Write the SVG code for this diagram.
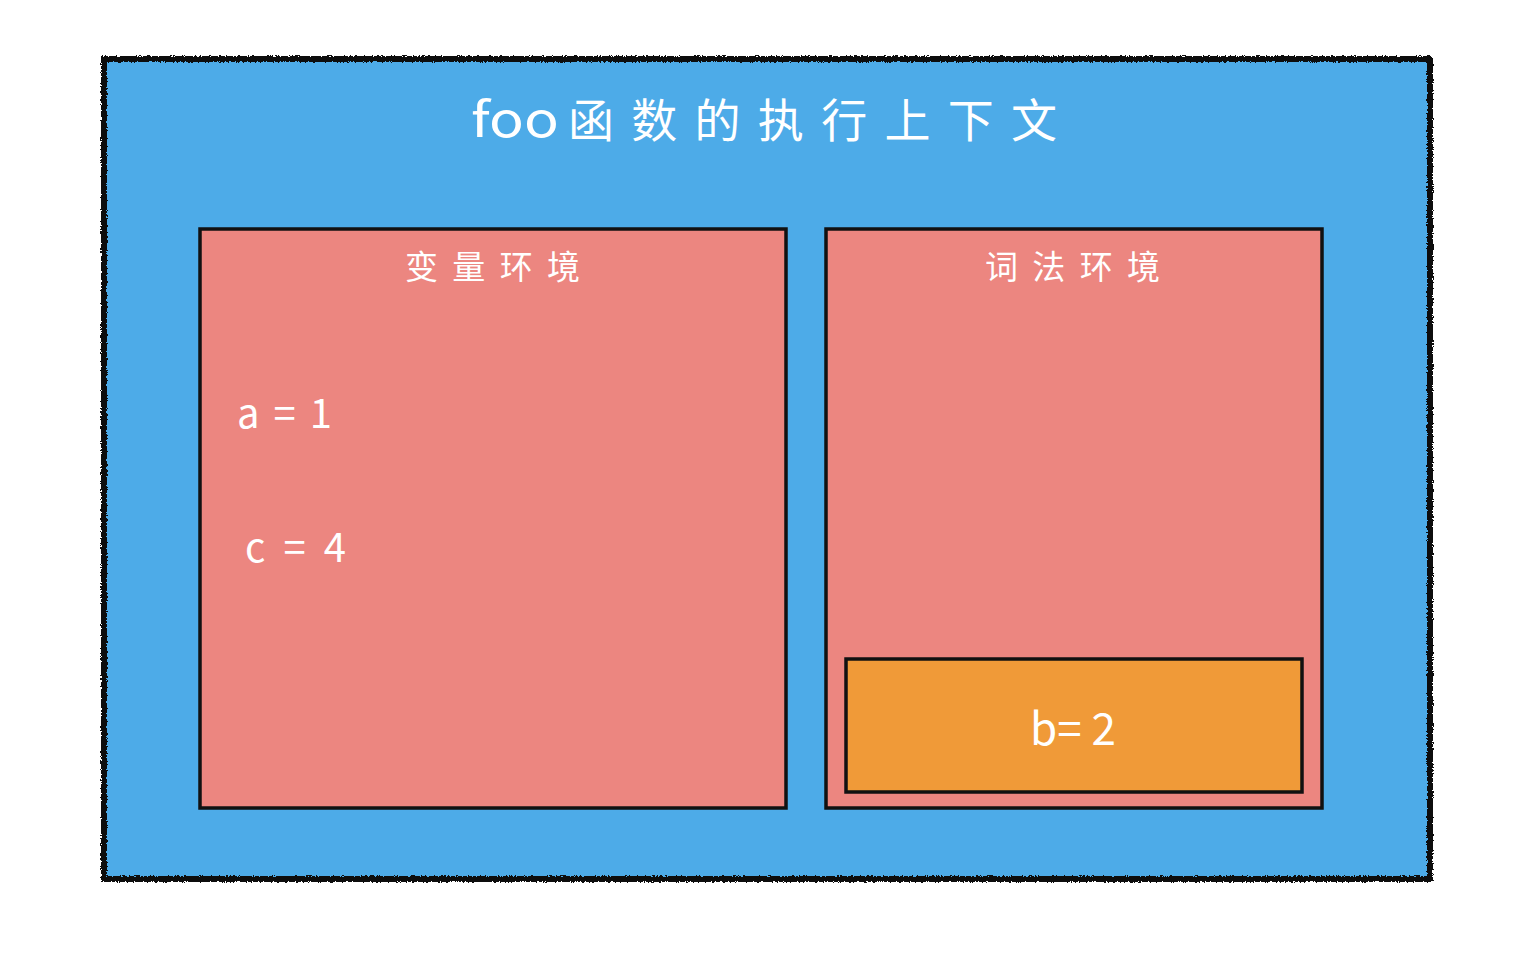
<svg xmlns="http://www.w3.org/2000/svg" width="1536" height="956" viewBox="0 0 1536 956">
<defs>
<filter id="rough" x="-2%" y="-2%" width="104%" height="104%">
<feTurbulence type="fractalNoise" baseFrequency="0.6" numOctaves="2" seed="3" result="n"/>
<feDisplacementMap in="SourceGraphic" in2="n" scale="4" xChannelSelector="R" yChannelSelector="G"/>
</filter>
<style>
.lbl{fill:#ffffff;font-family:"Noto Sans CJK SC","Noto Sans",sans-serif;}
.box{stroke:#111111;stroke-width:3.5;}
</style>
</defs>
<rect width="1536" height="956" fill="#ffffff"/>
<g id="outer">
<rect x="104" y="59" width="1326" height="820" fill="#4DABE8"/>
<rect x="104" y="59" width="1326" height="820" fill="none" stroke="#111111" stroke-width="4"/>
<rect x="104" y="59" width="1326" height="820" fill="none" stroke="#111111" stroke-width="6" filter="url(#rough)"/>
<text class="lbl" x="471" y="137" font-size="48" textLength="88" lengthAdjust="spacingAndGlyphs">foo</text>
<text class="lbl" x="568" y="137" font-size="46" textLength="489" lengthAdjust="spacing">函数的执行上下文</text>
</g>
<g id="variable-env">
<rect class="box" x="200" y="229" width="586" height="579" fill="#EC8680"/>
<text class="lbl" x="405" y="279" font-size="33" textLength="175" lengthAdjust="spacing">变量环境</text>
<text class="lbl" x="237" y="428" font-size="40" textLength="95" lengthAdjust="spacing">a = 1</text>
<text class="lbl" x="245" y="562" font-size="40" textLength="101" lengthAdjust="spacing">c = 4</text>
</g>
<g id="lexical-env">
<rect class="box" x="826" y="229" width="496" height="579" fill="#EC8680"/>
<text class="lbl" x="985" y="279" font-size="33" textLength="175" lengthAdjust="spacing">词法环境</text>
</g>
<g id="block">
<rect class="box" x="846" y="659" width="456" height="133" fill="#F09A38"/>
<text class="lbl" x="1073" y="745" font-size="44" text-anchor="middle">b= 2</text>
</g>
<g id="connectors"></g>
</svg>
